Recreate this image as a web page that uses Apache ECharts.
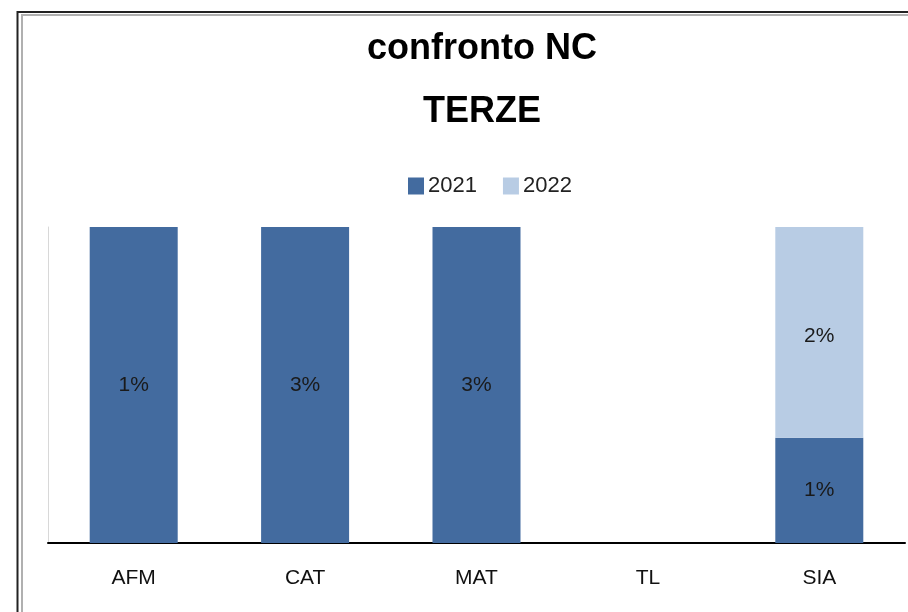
<!DOCTYPE html>
<html>
<head>
<meta charset="utf-8">
<script src="https://cdn.jsdelivr.net/npm/echarts@6/dist/echarts.min.js"></script>
<style>
html,body{margin:0;padding:0;background:#fff;}
#chart{width:908px;height:612px;}
</style>
</head>
<body>
<div id="chart"></div>
<script>
var categories = ['AFM', 'CAT', 'MAT', 'TL', 'SIA'];
var years = ['2021', '2022'];
var val2021 = [1, 3, 3, 0, 1];   // percent
var val2022 = [0, 0, 0, 0, 2];   // percent

var font = '"Liberation Sans", Arial, sans-serif';

// 100% stacked: share of each year in the category total
function share(arr) {
	return arr.map(function (v, i) {
		var tot = val2021[i] + val2022[i];
		return tot ? v / tot * 100 : 0;
	});
}

function labelOf(raw) {
	return function (p) {
		var v = raw[p.dataIndex];
		return v ? v + '%' : '';
	};
}

var chart = echarts.init(document.getElementById('chart'));
chart.setOption({
	animation: false,
	title: {
		text: 'confronto NC\nTERZE',
		left: 477,
		textAlign: 'center',
		top: 13,
		textStyle: {
			fontFamily: font,
			fontSize: 36,
			fontWeight: 'bold',
			color: '#000',
			lineHeight: 63
		}
	},
	legend: {
		data: years,
		top: 170,
		left: 403,
		icon: 'rect',
		itemWidth: 16,
		itemHeight: 17,
		itemGap: 26,
		textStyle: { fontFamily: font, fontSize: 22, color: '#222', padding: [0, 0, 0, -1] }
	},
	grid: { left: 48, right: 3, top: 227, bottom: 69 },
	xAxis: {
		type: 'category',
		data: categories,
		axisLine: { lineStyle: { color: '#000', width: 2 } },
		axisTick: { show: false },
		axisLabel: { fontFamily: font, fontSize: 21, color: '#111', margin: 25 }
	},
	yAxis: {
		type: 'value',
		min: 0,
		max: 100,
		axisLabel: { show: false },
		splitLine: { show: false },
		axisTick: { show: false },
		axisLine: { show: true, lineStyle: { color: '#d8d8d8', width: 1 } }
	},
	series: [
		{
			name: '2021',
			type: 'bar',
			stack: 'tot',
			barWidth: 88,
			itemStyle: { color: '#436b9f' },
			label: {
				show: true,
				position: 'inside',
				fontFamily: font,
				fontSize: 21,
				color: '#1a1a1a',
				formatter: labelOf(val2021)
			},
			data: share(val2021)
		},
		{
			name: '2022',
			type: 'bar',
			stack: 'tot',
			barWidth: 88,
			itemStyle: { color: '#b8cce4' },
			label: {
				show: true,
				position: 'inside',
				fontFamily: font,
				fontSize: 21,
				color: '#1a1a1a',
				offset: [0, 4],
				formatter: labelOf(val2022)
			},
			data: share(val2022)
		}
	],
	graphic: [
		{
			type: 'rect',
			shape: { x: 17.5, y: 12, width: 1000, height: 1000 },
			style: { fill: 'none', stroke: '#222', lineWidth: 2 }
		},
		{
			type: 'rect',
			shape: { x: 22, y: 15, width: 1000, height: 1000 },
			style: { fill: 'none', stroke: '#b0b0b0', lineWidth: 2 }
		}
	]
});
</script>
</body>
</html>
